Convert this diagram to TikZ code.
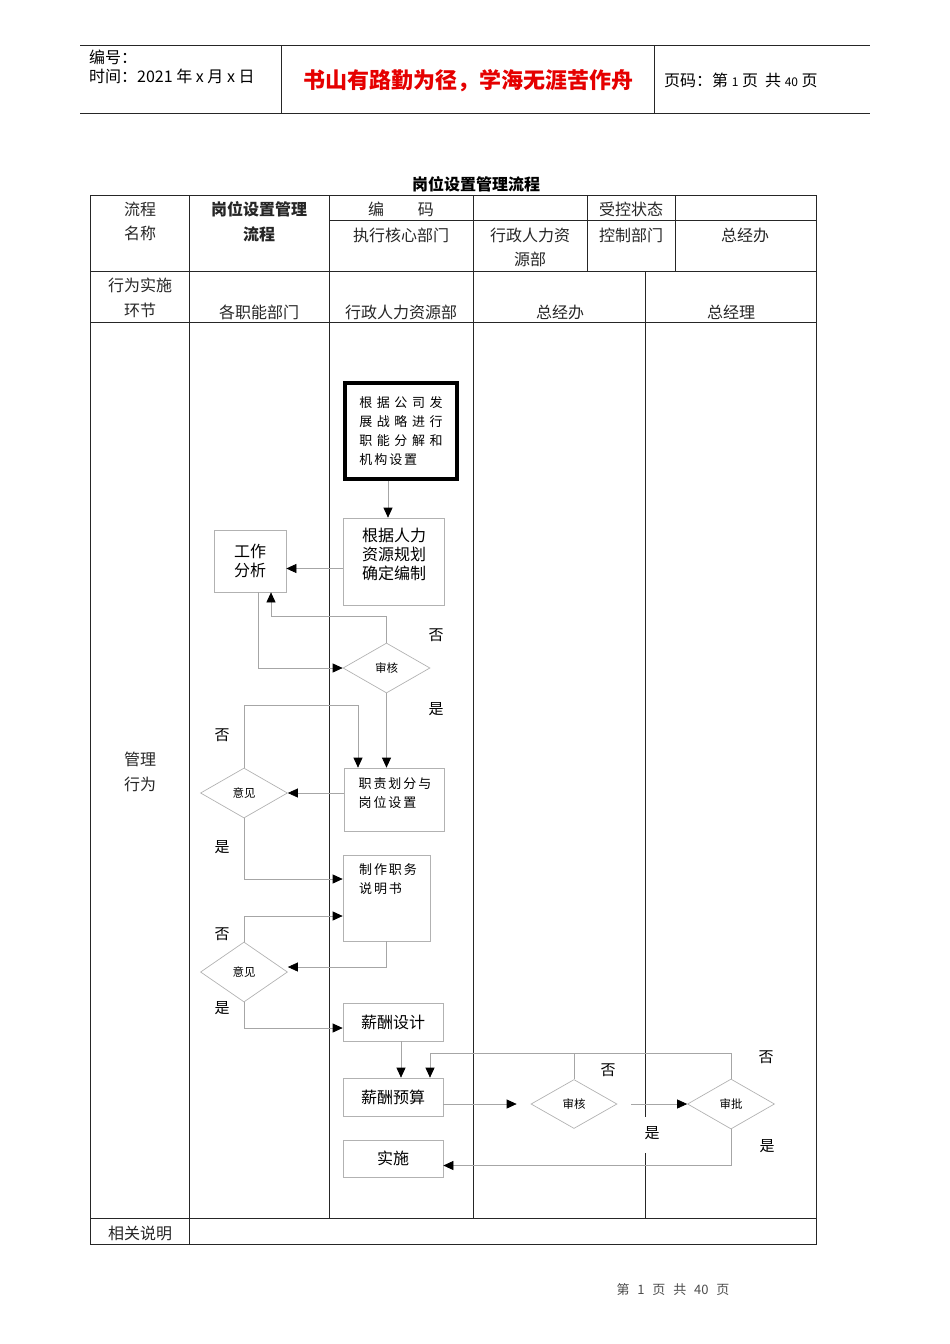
\documentclass[tikz,border=0pt]{standalone}
\usepackage{fontspec}
\setmainfont{Noto Sans CJK SC}
\newfontfamily\widefont[LetterSpace=35]{Noto Sans CJK SC}
\newfontfamily\thinfont[LetterSpace=15]{Noto Sans CJK SC}
\usetikzlibrary{arrows.meta,shapes.geometric}

\tikzset{
  frame/.style={black!85, line width=0.8pt},
  hdr/.style={font=\fontsize{16}{16}\selectfont, inner sep=0pt},
  cell/.style={font=\fontsize{16}{24}\selectfont, align=center, inner sep=0pt, black!85},
  box/.style={draw=black!30, line width=0.7pt, inner sep=0pt, align=center,
    font=\fontsize{16}{19}\selectfont},
  bigbox/.style={draw=black, line width=3.5pt, inner sep=0pt, align=left,
    font=\widefont\fontsize{13}{19.3}\selectfont},
  decide/.style={diamond, draw=black!30, line width=0.7pt, inner sep=0pt,
    minimum width=87pt, minimum height=50pt, font=\fontsize{11.5}{11.5}\selectfont},
  txt/.style={font=\fontsize{16}{19}\selectfont, align=left, inner sep=0pt},
  stxt/.style={font=\thinfont\fontsize{13}{19}\selectfont, align=left, inner sep=0pt},
  note/.style={font=\fontsize{15}{15}\selectfont, inner sep=0pt},
  link/.style={draw=black!35, line width=0.7pt,
    -{Triangle[length=10pt,width=9pt,color=black,fill=black]}},
  plain/.style={draw=black!35, line width=0.7pt},
}

\begin{document}
\begin{tikzpicture}[x=1pt, y=-1pt]
    \useasboundingbox (0,0) rectangle (950,1344);

        % Cabecera
        \draw[frame] (80,45) -- (870,45);
        \draw[frame] (80,113) -- (870,113);
        \draw[frame] (281,45) -- (281,113);
        \draw[frame] (654,45) -- (654,113);
        \node[hdr, anchor=west] (bianhao) at (89,57) {编号：};
        \node[hdr, anchor=west] (shijian) at (89,76) {时间：2021 年 x 月 x 日};
        \node[font=\bfseries\fontsize{22}{22}\selectfont, text=red!90!black, inner sep=0pt] (motto) at (468,81) {书山有路勤为径，学海无涯苦作舟};
        \node[hdr, anchor=west] (yema) at (664,80) {页码：第 {\fontsize{12}{12}\selectfont 1} 页~~共 {\fontsize{12}{12}\selectfont 40} 页};

        % Titulo
        \node[font=\bfseries\fontsize{16}{16}\selectfont, inner sep=0pt] (biaoti) at (476,184) {岗位设置管理流程};

        % Tabla
        \draw[frame] (90,195) rectangle (816,1244);
        \draw[frame] (329,220) -- (816,220);
        \draw[frame] (90,271) -- (816,271);
        \draw[frame] (90,322) -- (816,322);
        \draw[frame] (90,1218) -- (816,1218);
        \draw[frame] (189,195) -- (189,1244);
        \draw[frame] (329,195) -- (329,1218);
        \draw[frame] (473,195) -- (473,1218);
        \draw[frame] (587,195) -- (587,271);
        \draw[frame] (675,195) -- (675,271);
        \draw[frame] (645,271) -- (645,1117);
        \draw[frame] (645,1153) -- (645,1218);

        % Celdas
        \node[cell] (c-name) at (140,221) {流程\\名称};
        \node[cell, font=\bfseries\fontsize{16}{25}\selectfont] (c-title) at (259,221.5) {岗位设置管理\\流程};
        \node[cell] (c-code) at (401,209) {编\hspace{2.1em}码};
        \node[cell] (c-status) at (631,209) {受控状态};
        \node[cell] (c-exec) at (401,235) {执行核心部门};
        \node[cell] (c-hr) at (530,247) {行政人力资\\源部};
        \node[cell] (c-ctrl) at (631,235) {控制部门};
        \node[cell] (c-office) at (745,235) {总经办};
        \node[cell, font=\fontsize{16}{25}\selectfont] (c-act) at (140,297.5) {行为实施\\环节};
        \node[cell] (l-dept) at (259,312) {各职能部门};
        \node[cell] (l-hr) at (401,312) {行政人力资源部};
        \node[cell] (l-office) at (560,312) {总经办};
        \node[cell] (l-gm) at (731,312) {总经理};
        \node[cell, font=\fontsize{16}{25}\selectfont] (c-mgmt) at (140,771.5) {管理\\行为};
        \node[cell] (c-note) at (140,1233) {相关说明};

        % Pie de pagina
        \node[font=\fontsize{13}{13}\selectfont, text=black!70, inner sep=0pt] (yejiao) at (673,1290) {第\hspace{0.6em}1\hspace{0.6em}页\hspace{0.6em}共\hspace{0.6em}40\hspace{0.6em}页};

        % Pasos
        \node[bigbox, minimum width=112pt, minimum height=96pt] (fenjie) at (401,431) {根据公司发\\展战略进行\\职能分解和\\{\thinfont 机构设置}};
        \node[box, minimum width=101pt, minimum height=87pt] (bianzhi) at (393.5,561.5) {};
        \node[txt] (t-bianzhi) at (394,554) {根据人力\\资源规划\\确定编制};
        \node[box, minimum width=72pt, minimum height=62pt] (gongzuo) at (250,561) {工作\\分析};
        \node[decide] (shenhe1) at (386.5,668) {审核};
        \node[box, minimum width=100pt, minimum height=63pt] (zhize) at (394,799.5) {};
        \node[stxt] (t-zhize) at (395,793.5) {职责划分与\\岗位设置};
        \node[decide] (yijian1) at (244,793) {意见};
        \node[box, minimum width=87pt, minimum height=86pt] (shuoming) at (386.5,898) {};
        \node[stxt] (t-shuoming) at (388,879.5) {制作职务\\说明书};
        \node[decide, minimum height=60pt] (yijian2) at (244,972) {意见};
        \node[box, minimum width=100pt, minimum height=38pt] (sheji) at (393,1022) {薪酬设计};
        \node[box, minimum width=100pt, minimum height=38pt] (yusuan) at (393,1097) {薪酬预算};
        \node[decide, minimum width=86pt, minimum height=49pt] (shenhe2) at (574,1104) {审核};
        \node[decide, minimum width=87pt] (shenpi) at (731,1104) {审批};
        \node[box, minimum width=100pt, minimum height=37pt] (shishi) at (393,1158.5) {实施};

        % Flechas
        \draw[link] ([xshift=-13pt]fenjie.south) -- ([xshift=-13pt]fenjie.south |- bianzhi.north);
        \draw[link] ([yshift=-7pt]bianzhi.west) -- ([yshift=-7pt]bianzhi.west -| gongzuo.east);
        \draw[link] (shenhe1.north) -- ++(0,-26) -| ([xshift=21pt]gongzuo.south);
        \draw[link] ([xshift=8pt]gongzuo.south) |- (shenhe1.west);
        \draw[link] (shenhe1.south) -- (shenhe1.south |- zhize.north);
        \draw[link] (zhize.west |- yijian1.east) -- (yijian1.east);
        \draw[link] (yijian1.north) -- ++(0,-62) -| ([xshift=-36pt]zhize.north);
        \draw[link] (yijian1.south) |- ([yshift=19pt]shuoming.west);
        \draw[link] (shuoming.south) |- ([yshift=5pt]yijian2.east);
        \draw[link] (yijian2.north) |- ([yshift=-18pt]shuoming.west);
        \draw[link] (yijian2.south) |- ([yshift=-6pt]sheji.west);
        \draw[link] ([xshift=8pt]sheji.south) -- ([xshift=8pt]yusuan.north);
        \draw[link] (yusuan.east |- shenhe2.west) -- ([xshift=-14pt]shenhe2.west);
        \draw[link] (shenhe2.north) -- ++(0,-26) -| ([xshift=37pt]yusuan.north);
        \draw[link] ([xshift=14pt]shenhe2.east) -- (shenpi.west);
        \draw[plain] (shenpi.north) |- ([yshift=26pt]shenhe2.north);
        \draw[link] (shenpi.south) |- ([yshift=-7pt]shishi.east);

        % Etiquetas
        \node[note] (no1) at (436,635) {否};
        \node[note] (yes1) at (436,709) {是};
        \node[note] (no2) at (222,735) {否};
        \node[note] (yes2) at (222,847) {是};
        \node[note] (no3) at (222,934) {否};
        \node[note] (yes3) at (222,1008) {是};
        \node[note] (no4) at (608,1070) {否};
        \node[note] (no5) at (766,1057) {否};
        \node[note] (yes4) at (652,1133) {是};
        \node[note] (yes5) at (767,1146) {是};

\end{tikzpicture}
\end{document}
